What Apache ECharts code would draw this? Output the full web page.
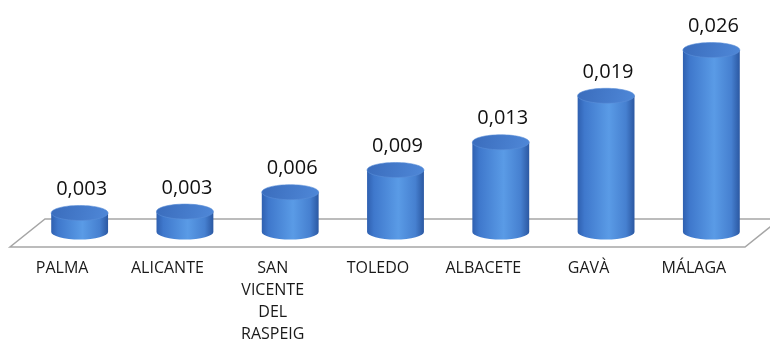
<!DOCTYPE html>
<html>
<head>
<meta charset="utf-8">
<script src="https://cdn.jsdelivr.net/npm/echarts@6/dist/echarts.min.js"></script>
<style>html,body{margin:0;padding:0;background:#fff}#c{width:770px;height:340px}</style>
</head>
<body>
<div id="c"></div>
<script>
var categories = ['PALMA', 'ALICANTE', 'SAN VICENTE DEL RASPEIG', 'TOLEDO', 'ALBACETE', 'GAVÀ', 'MÁLAGA'];
var values = [0.0026, 0.0028, 0.0056, 0.0088, 0.0128, 0.0195, 0.0261];

function fmt(v) { return v.toFixed(3).replace('.', ','); }

var chart = echarts.init(document.getElementById('c'), null, { renderer: 'canvas' });

function floorItem(params, api) {
  var cs = params.coordSys;
  var y0 = api.coord([0, 0])[1];
  var L = cs.x, R = cs.x + cs.width;
  var pts = [
    [L + 18, y0 - 12], [R + 16, y0 - 12], [R - 19, y0 + 16], [L - 17, y0 + 16]
  ];
  return {
    type: 'polygon',
    shape: { points: pts },
    style: { fill: '#ffffff', stroke: '#a6a6a6', lineWidth: 1.5 }
  };
}

function cylItem(params, api) {
  var idx = api.value(0);
  var v = api.value(1);
  var base = api.coord([idx, 0]);
  var top = api.coord([idx, v]);
  var w = api.size([1, 0])[0] * 0.54;
  var rx = w / 2, ry = 7.5;
  var cx = base[0], by = base[1] + 1, ty = top[1];
  var bodyPath = 'M' + (cx - rx) + ' ' + ty +
    ' L' + (cx - rx) + ' ' + by +
    ' A' + rx + ' ' + ry + ' 0 0 0 ' + (cx + rx) + ' ' + by +
    ' L' + (cx + rx) + ' ' + ty + ' Z';
  var bodyGrad = new echarts.graphic.LinearGradient(0, 0, 1, 0, [
    { offset: 0, color: '#2f60b0' },
    { offset: 0.12, color: '#3f78cc' },
    { offset: 0.55, color: '#5a9be6' },
    { offset: 0.85, color: '#4680d0' },
    { offset: 1, color: '#2b58a2' }
  ]);
  var topGrad = new echarts.graphic.LinearGradient(0, 0, 1, 1, [
    { offset: 0, color: '#3a6cbc' },
    { offset: 1, color: '#4f88d8' }
  ]);
  return {
    type: 'group',
    children: [
      { type: 'path', shape: { pathData: bodyPath }, style: { fill: bodyGrad } },
      { type: 'ellipse', shape: { cx: cx, cy: ty, rx: rx, ry: ry }, style: { fill: topGrad, stroke: '#5b8fd8', lineWidth: 0.6 } },
      { type: 'text', x: cx + 2, y: ty - ry - 16,
        style: { text: fmt(v), fill: '#111111', font: '20px "Open Sans"', align: 'center', verticalAlign: 'middle' } }
    ]
  };
}

chart.setOption({
  animation: false,
  backgroundColor: '#ffffff',
  grid: { left: 27, right: 6, top: 23, bottom: 109, outerBoundsMode: 'none', containLabel: false },
  xAxis: {
    type: 'category',
    data: categories,
    axisLine: { show: false },
    axisTick: { show: false },
    splitLine: { show: false },
    axisLabel: {
      margin: 26,
      interval: 0,
      color: '#1a1a1a',
      fontFamily: 'Open Sans',
      fontSize: 16,
      lineHeight: 22,
      align: 'center',
      padding: [0, 35, 0, 0],
      formatter: function (s) { return s.split(' ').join('\n'); }
    }
  },
  yAxis: { type: 'value', min: 0, max: 0.03, show: false, splitLine: { show: false } },
  series: [
    { type: 'custom', renderItem: floorItem, data: [[0, 0]], z: 1, silent: true },
    { type: 'custom', renderItem: cylItem, z: 2,
      data: values.map(function (v, i) { return [i, v]; }) }
  ]
});
</script>
</body>
</html>
